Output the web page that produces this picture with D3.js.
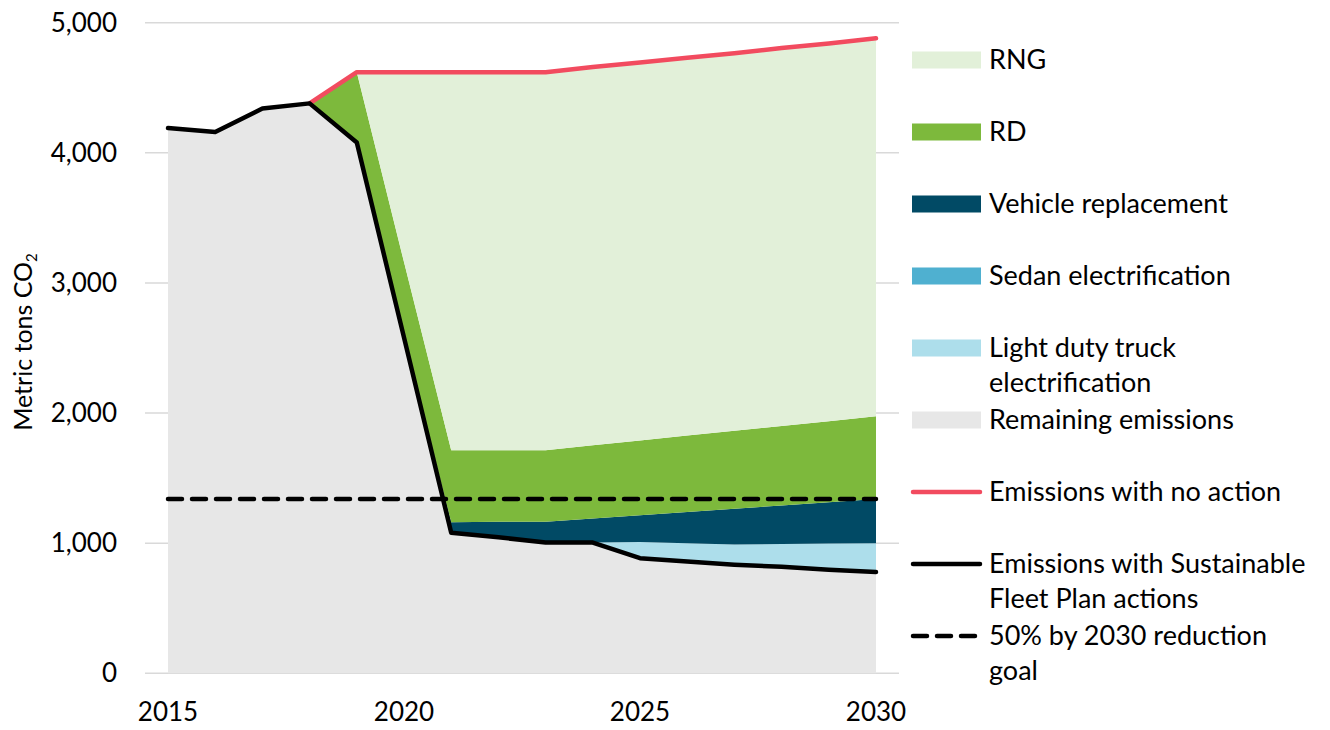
<!DOCTYPE html>
<html><head><meta charset="utf-8">
<script src="https://cdn.jsdelivr.net/npm/d3@7"></script>
<style>
body{margin:0;background:#fff}
text{font-family:Lato, "Open Sans", sans-serif; fill:#000}
</style>
</head><body>
<svg id="c" width="1330" height="730"></svg>
<script>
const years = [2015,2016,2017,2018,2019,2020,2021,2022,2023,2024,2025,2026,2027,2028,2029,2030];
const remaining      = [4190,4160,4340,4380,4080,2580,1080,1045,1005,1005,885,860,835,818,795,778];
const lightDutyTruck = [0,0,0,0,0,0,0,0,0,0,125,140,155,175,202,222];
const sedanElec      = [0,0,0,0,0,0,0,0,0,0,0,0,0,0,0,0];
const vehicleRepl    = [0,0,0,0,0,0,80,120,160,185,205,240,275,297,318,340];
const rd             = [0,0,0,0,540,580,555,550,550,562,575,587,599,610,623,635];
const rng            = [0,0,0,0,0,1460,2905,2905,2905,2908,2905,2903,2901,2905,2902,2905];
const noAction       = [null,null,null,4380,4620,4620,4620,4620,4620,4660,4695,4730,4765,4805,4840,4880];
const goal           = [1340,1340,1340,1340,1340,1340,1340,1340,1340,1340,1340,1340,1340,1340,1340,1340];
const yTicks = [0,1000,2000,3000,4000,5000];
const xTicks = [2015,2020,2025,2030];

const seriesKeys = ["remaining","ldt","sedan","vehicle","rd","rng"];
const colors = {remaining:"#E7E7E7", ldt:"#ADDEEB", sedan:"#4FB0D0", vehicle:"#014A65", rd:"#7DB93C", rng:"#E2F0D9"};

const table = years.map((y,i)=>({year:y, remaining:remaining[i], ldt:lightDutyTruck[i], sedan:sedanElec[i], vehicle:vehicleRepl[i], rd:rd[i], rng:rng[i]}));

const svg = d3.select("#c");
const x = d3.scaleLinear().domain([2015,2030]).range([168,876]);
const y = d3.scaleLinear().domain([0,5000]).range([673.3,22.7]);
const FS = 26;
const LFS = 27;

// gridlines
svg.append("g").selectAll("line").data(yTicks).join("line")
  .attr("x1",145).attr("x2",899)
  .attr("y1",d=>y(d)).attr("y2",d=>y(d))
  .attr("stroke","#D9D9D9").attr("stroke-width",1.5);

// stacked areas
const stack = d3.stack().keys(seriesKeys)(table);
const area = d3.area().x(d=>x(d.data.year)).y0(d=>y(d[0])).y1(d=>y(d[1]));
svg.append("g").selectAll("path").data(stack).join("path")
  .attr("d",area).attr("fill",d=>colors[d.key]);

// goal dashed line
const line = d3.line().defined(d=>d[1]!=null).x(d=>x(d[0])).y(d=>y(d[1]));
svg.append("path").attr("d",line(years.map((yr,i)=>[yr,goal[i]])))
  .attr("fill","none").attr("stroke","#000").attr("stroke-width",4.5)
  .attr("stroke-dasharray","14,10").attr("stroke-linecap","round");
// no action
svg.append("path").attr("d",line(years.map((yr,i)=>[yr,noAction[i]])))
  .attr("fill","none").attr("stroke","#F24B5F").attr("stroke-width",4.5)
  .attr("stroke-linecap","round").attr("stroke-linejoin","round");
// sustainable plan
svg.append("path").attr("d",line(years.map((yr,i)=>[yr,remaining[i]])))
  .attr("fill","none").attr("stroke","#000").attr("stroke-width",4.5)
  .attr("stroke-linecap","round").attr("stroke-linejoin","round");

// y tick labels
svg.append("g").selectAll("text").data(yTicks).join("text")
  .attr("x",117).attr("y",d=>y(d)).attr("dy","0.35em")
  .attr("text-anchor","end").attr("font-size",FS)
  .text(d=>d3.format(",")(d));
// x tick labels
svg.append("g").selectAll("text").data(xTicks).join("text")
  .attr("x",d=>x(d)).attr("y",712).attr("dy","0.35em")
  .attr("text-anchor","middle").attr("font-size",FS)
  .text(d=>d);

// y axis title
const yt = svg.append("text").attr("transform","translate(32,342) rotate(-90)")
  .attr("text-anchor","middle").attr("font-size",25);
yt.append("tspan").text("Metric tons CO");
yt.append("tspan").attr("font-size",15).attr("dy",5).text("2");

// legend
const legendItems = [
  {type:"rect", key:"rng", cy:60, lines:["RNG"]},
  {type:"rect", key:"rd", cy:132, lines:["RD"]},
  {type:"rect", key:"vehicle", cy:204, lines:["Vehicle replacement"]},
  {type:"rect", key:"sedan", cy:276, lines:["Sedan electrification"]},
  {type:"rect", key:"ldt", cy:348, lines:["Light duty truck","electrification"]},
  {type:"rect", key:"remaining", cy:420, lines:["Remaining emissions"]},
  {type:"line", color:"#F24B5F", dash:null, cy:492, lines:["Emissions with no action"]},
  {type:"line", color:"#000", dash:null, cy:564, lines:["Emissions with Sustainable","Fleet Plan actions"]},
  {type:"line", color:"#000", dash:"14,10", cy:636, lines:["50% by 2030 reduction","goal"]}
];
const lg = svg.append("g");
legendItems.forEach(it=>{
  if(it.type==="rect"){
    lg.append("rect").attr("x",912).attr("y",it.cy-8.5).attr("width",69).attr("height",17).attr("fill",colors[it.key]);
  } else {
    lg.append("line").attr("x1",913).attr("x2",980).attr("y1",it.cy).attr("y2",it.cy)
      .attr("stroke",it.color).attr("stroke-width",4.5).attr("stroke-linecap","round")
      .attr("stroke-dasharray",it.dash);
  }
  const t = lg.append("text").attr("x",989).attr("y",it.cy).attr("font-size",LFS);
  it.lines.forEach((l,j)=>{
    t.append("tspan").attr("x",989).attr("dy", j===0? "0.35em" : "35px").text(l);
  });
});
</script>
</body></html>
